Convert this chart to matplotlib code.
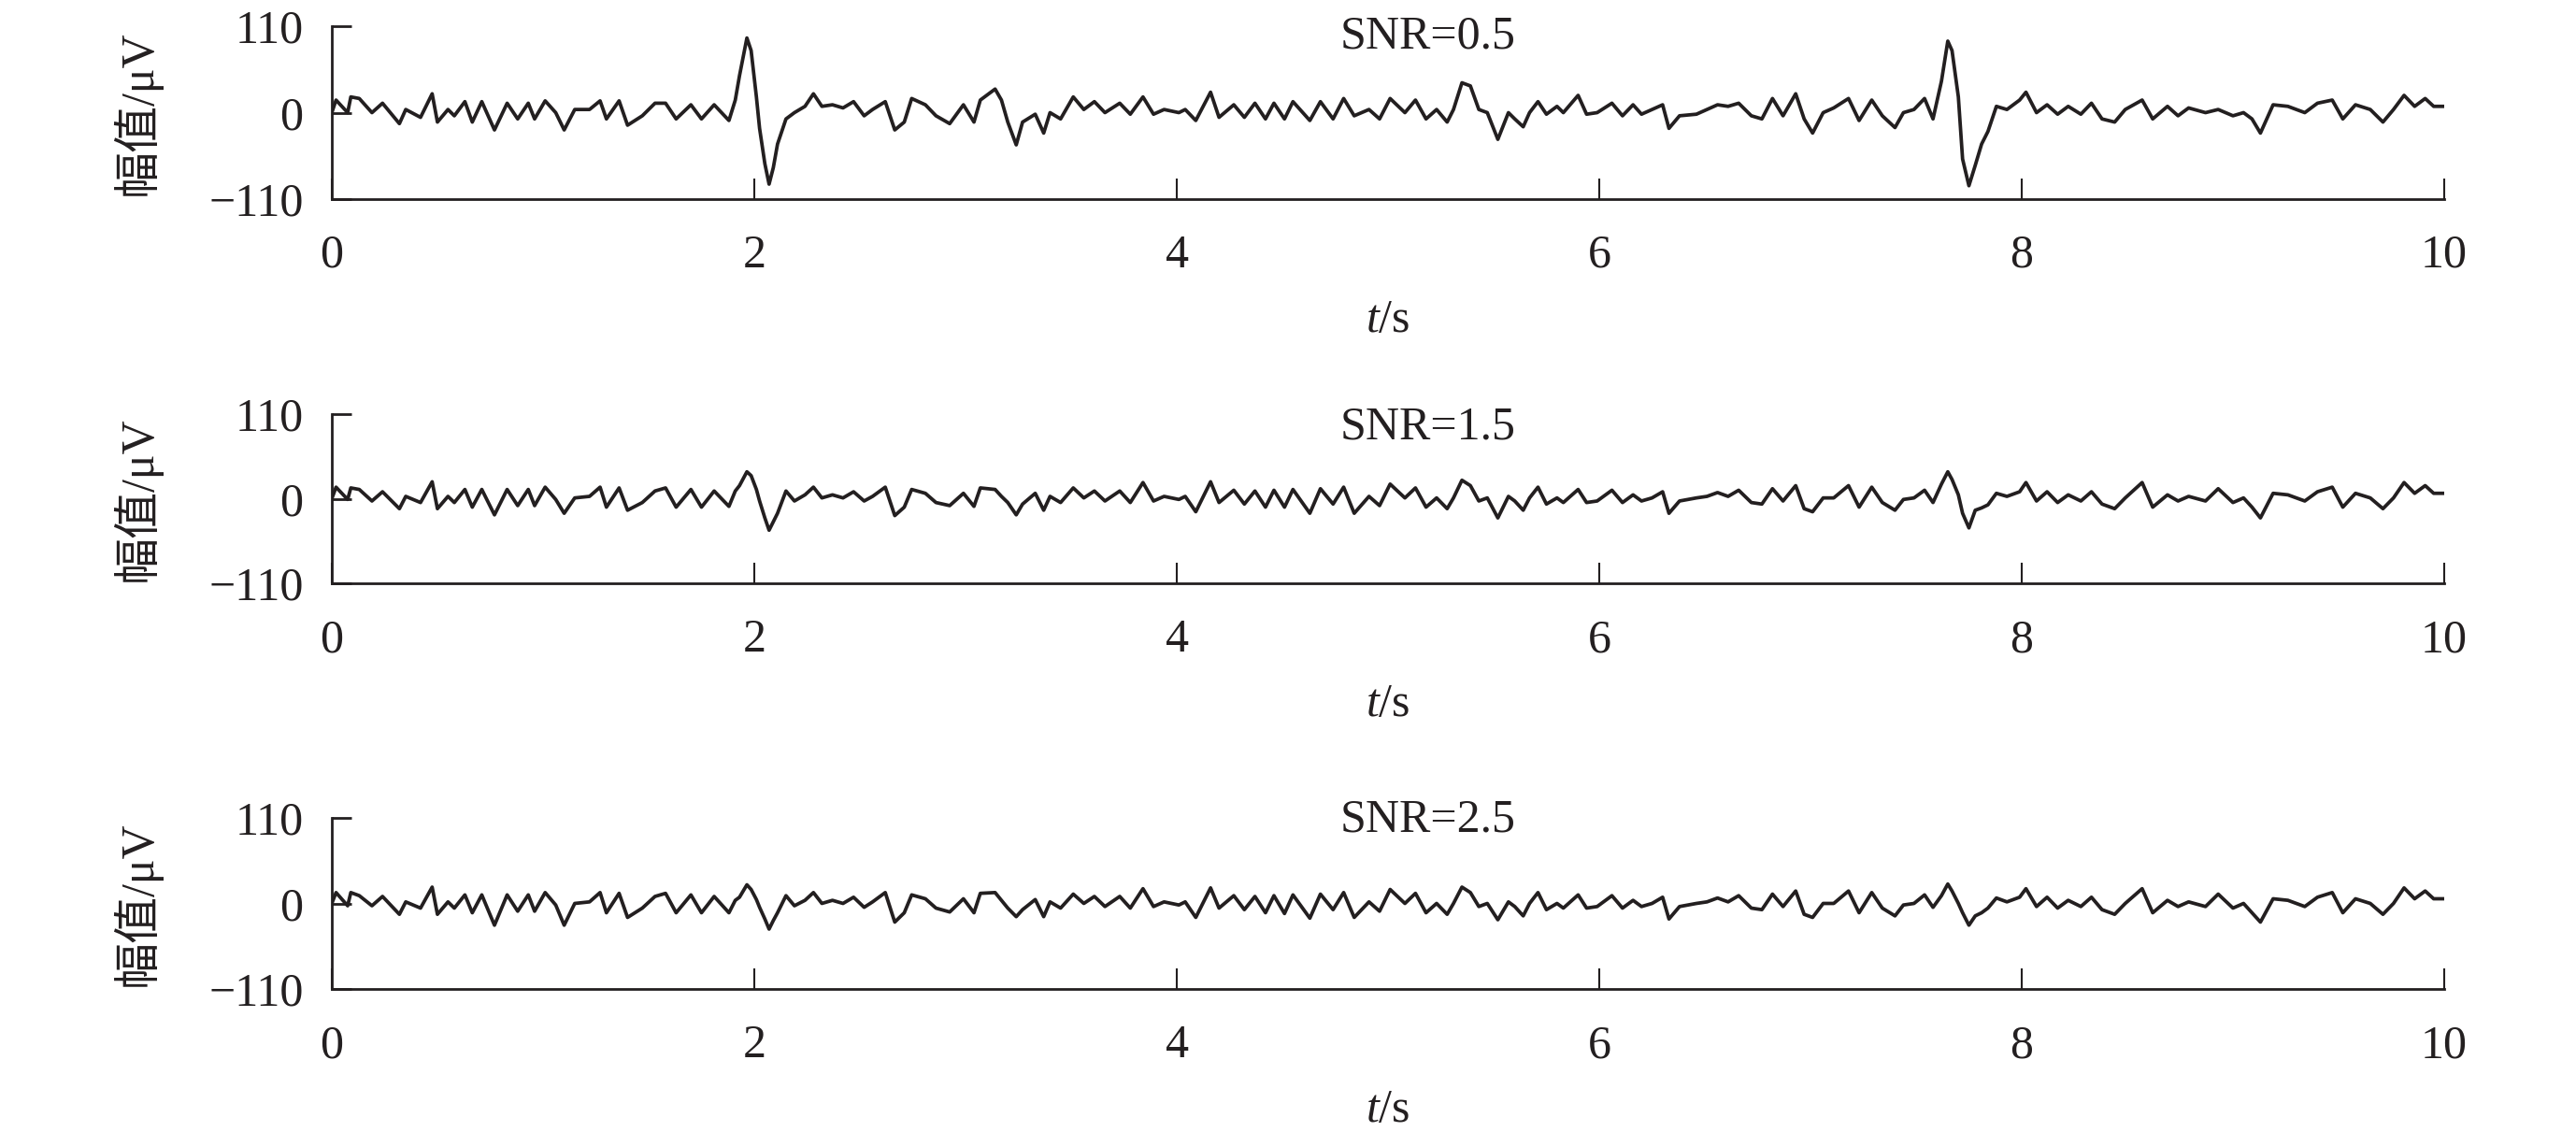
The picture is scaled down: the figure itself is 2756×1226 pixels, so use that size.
import matplotlib
matplotlib.use("Agg")
import matplotlib.pyplot as plt

# ---- data (time in s, amplitude in uV) ----
t_s = [0, .02, .075, .09, .13, .19, .24, .32, .35, .42, .475, .50, .55, .58, .63, .665, .71, .77, .83, .88,
       .93, .96, 1.01, 1.06, 1.10, 1.15, 1.22, 1.27, 1.30, 1.36, 1.40, 1.47, 1.53, 1.58, 1.63, 1.70, 1.75, 1.81, 1.88,
       1.91, 1.93, 1.965, 1.985, 2.01, 2.025, 2.05, 2.07, 2.09, 2.11, 2.15,
       2.19, 2.24, 2.28, 2.32, 2.37, 2.42, 2.47, 2.52, 2.56, 2.62, 2.665, 2.71, 2.745, 2.81, 2.86, 2.925, 2.99, 3.04,
       3.07, 3.14, 3.17, 3.20, 3.24, 3.27, 3.33, 3.37, 3.40, 3.45, 3.51, 3.56, 3.61, 3.66, 3.73, 3.78, 3.84, 3.89,
       3.94, 4.01, 4.04, 4.09, 4.16, 4.20, 4.27, 4.32, 4.37, 4.42, 4.46, 4.51, 4.55, 4.63, 4.68, 4.74, 4.79, 4.84,
       4.91, 4.96, 5.01, 5.08,
       5.13, 5.18, 5.23, 5.28, 5.31, 5.35, 5.39, 5.43, 5.47, 5.52, 5.57, 5.60, 5.64, 5.67, 5.71, 5.75, 5.80, 5.83,
       5.90, 5.94, 5.99, 6.06, 6.11, 6.16, 6.20, 6.25, 6.30, 6.33, 6.38, 6.46, 6.51, 6.56, 6.61, 6.66, 6.72, 6.77,
       6.82, 6.87, 6.93, 6.97, 7.01, 7.06, 7.11, 7.18, 7.23, 7.29, 7.34, 7.40, 7.44, 7.49, 7.54, 7.58,
       7.62, 7.65, 7.67, 7.70, 7.72, 7.75, 7.78, 7.81, 7.84, 7.88,
       7.93, 7.99, 8.02, 8.07, 8.12, 8.17, 8.22, 8.28, 8.33, 8.38, 8.44, 8.49, 8.57, 8.62, 8.69, 8.74, 8.79, 8.87,
       8.93, 9.00, 9.05, 9.09, 9.13, 9.19, 9.26, 9.34, 9.40, 9.47, 9.52, 9.58, 9.65, 9.71, 9.76, 9.81, 9.86, 9.91,
       9.95, 10.0]

amp_snr05 = [0, 16, 0, 20, 18, 0, 12, -14, 4, -6, 24, -12, 4, -4, 14, -12, 14, -22, 12, -8,
             12, -8, 15, 0, -22, 4, 4, 15, -8, 15, -16, -4, 12, 12, -8, 10, -8, 10, -10,
             16, 47, 95, 79, 20, -20, -65, -91, -70, -40, -8,
             0, 8, 24, 8, 10, 6, 14, -4, 4, 14, -22, -12, 18, 10, -4, -14, 10, -12, 16, 30,
             16, -12, -41, -12, -2, -26, 0, -8, 20, 4, 14, 0, 12, -2, 20, -2, 4, 0, 4, -10,
             26, -6, 10, -6, 12, -8, 12, -8, 14, -10, 14, -8, 18, -4, 4, -8, 18, 0,
             16, -8, 4, -12, 4, 38, 34, 4, 0, -34, 0, -8, -18, 0, 14, -2, 8, 0, 22, -2,
             0, 12, -4, 10, -2, 4, 10, -20, -4, -2, 4, 10, 8, 12, -4, -8, 18, -4, 24, -8,
             -26, 0, 6, 18, -10, 16, -4, -19, 0, 4, 18, -8,
             40, 91, 79, 20, -59, -93, -67, -40, -24, 8,
             4, 16, 26, 0, 10, -2, 8, -2, 12, -8, -12, 4, 16, -8, 8, -4, 6, 0, 4, -4,
             0, -8, -26, 10, 8, 0, 12, 16, -8, 10, 4, -12, 4, 22, 8, 18, 8, 8]

amp_snr15 = [0, 15, -1, 14, 12, -3, 9, -13, 3, -5, 22, -13, 3, -5, 12, -11, 12, -21, 12, -9,
             12, -9, 15, -1, -19, 1, 3, 15, -11, 14, -15, -5, 10, 14, -11, 12, -11, 10, -10,
             10, 17, 35, 30, 12, -3, -25, -41, -30, -19, 10,
             -3, 5, 15, 1, 5, 1, 9, -3, 3, 15, -22, -11, 12, 7, -5, -9, 7, -10, 14, 12,
             3, -5, -21, -7, 7, -15, 3, -5, 14, 1, 10, -3, 10, -5, 21, -3, 3, -1, 3, -17,
             22, -5, 11, -7, 10, -11, 11, -11, 12, -19, 13, -7, 15, -19, 3, -9, 19, 1,
             14, -11, 1, -13, 1, 24, 17, -3, 1, -25, 3, -3, -15, 1, 15, -7, 1, -5, 12, -5,
             -3, 11, -5, 5, -3, 1, 9, -19, -3, 1, 3, 8, 3, 11, -5, -7, 13, -3, 17, -13,
             -17, 1, 1, 17, -11, 15, -5, -15, -1, 1, 11, -5,
             19, 35, 25, 5, -19, -38, -15, -12, -8, 7,
             3, 9, 21, -3, 9, -5, 5, -3, 9, -7, -13, 1, 21, -11, 5, -3, 3, -3, 13, -5,
             1, -11, -25, 7, 5, -3, 9, 15, -11, 7, 1, -13, 1, 21, 7, 17, 7, 7]

amp_snr25 = [0, 14, -3, 14, 10, -3, 9, -14, 2, -6, 21, -14, 2, -6, 11, -12, 11, -28, 11, -10,
             11, -10, 14, -2, -28, 0, 2, 14, -12, 13, -18, -6, 9, 13, -12, 11, -12, 9, -12,
             4, 8, 24, 18, 5, -5, -20, -33, -22, -12, 10,
             -3, 4, 14, 0, 4, 0, 8, -5, 2, 14, -24, -12, 11, 6, -6, -11, 6, -12, 13, 14,
             4, -6, -17, -8, 5, -17, 2, -6, 12, 0, 9, -4, 9, -6, 19, -4, 2, -2, 2, -18,
             20, -6, 10, -8, 9, -12, 10, -13, 11, -19, 12, -8, 14, -18, 2, -10, 18, 0,
             13, -12, 0, -14, 0, 21, 14, -4, 0, -21, 2, -4, -16, 0, 14, -8, 0, -6, 11, -6,
             -4, 10, -6, 4, -4, 0, 8, -20, -4, 0, 2, 7, 2, 10, -6, -8, 12, -4, 16, -14,
             -18, 0, 0, 16, -12, 14, -6, -16, -2, 0, 11, -5,
             10, 25, 16, 0, -12, -28, -16, -12, -6, 7,
             2, 8, 19, -4, 8, -6, 4, -4, 8, -8, -14, 0, 19, -12, 4, -4, 2, -4, 12, -6,
             0, -12, -24, 6, 4, -4, 8, 14, -12, 6, 0, -14, 0, 20, 6, 16, 6, 6]

panel_titles = ["SNR=0.5", "SNR=1.5", "SNR=2.5"]
x_ticks = [0, 2, 4, 6, 8, 10]
y_ticks = [-110, 0, 110]
y_label = "幅值/μV"
x_label = r"$\mathit{t}$/s"

# ---- style ----
plt.rcParams["font.family"] = ["Liberation Serif", "Noto Sans CJK SC", "DejaVu Sans"]
plt.rcParams["mathtext.fontset"] = "custom"
plt.rcParams["mathtext.rm"] = "Liberation Serif"
plt.rcParams["mathtext.it"] = "Liberation Serif:italic"

W, H = 2756, 1226
fig = plt.figure(figsize=(W / 100, H / 100), dpi=100)

line_color = "#231f20"
fs = 36
# axes boxes in pixel terms: (top, bottom)
boxes = [(28, 213), (443, 624), (875, 1058)]
left_px, right_px = 355, 2615
title_y = [0.94, 0.92, 0.99]
series = [amp_snr05, amp_snr15, amp_snr25]

for i, ((top, bot), amp) in enumerate(zip(boxes, series)):
    ax = fig.add_axes([left_px / W, 1 - bot / H, (right_px - left_px) / W, (bot - top) / H])
    ax.plot(t_s, amp, color=line_color, lw=2.7, solid_joinstyle="round")
    ax.set_xlim(0, 10)
    ax.set_ylim(-110, 110)
    ax.set_xticks(x_ticks)
    ax.set_yticks(y_ticks)
    ax.set_xticklabels([str(v) for v in x_ticks])
    ax.set_yticklabels(["\u2212110", "0", "110"])
    for s in ["top", "right"]:
        ax.spines[s].set_visible(False)
    for s in ["left", "bottom"]:
        ax.spines[s].set_linewidth(2.0)
        ax.spines[s].set_color(line_color)
    ax.tick_params(axis="x", direction="in", length=16, width=1.5, pad=27,
                   labelsize=fs, colors=line_color)
    ax.tick_params(axis="y", direction="in", length=15, width=2.0, pad=22,
                   labelsize=fs, colors=line_color)
    ax.set_xlabel(x_label, fontsize=fs, color=line_color, labelpad=16)
    ax.set_ylabel(y_label, fontsize=fs, color=line_color, labelpad=36)
    ax.text(0.519, title_y[i], panel_titles[i], transform=ax.transAxes,
            ha="center", va="center", fontsize=fs, color=line_color)

fig.savefig("out.png", dpi=100)
